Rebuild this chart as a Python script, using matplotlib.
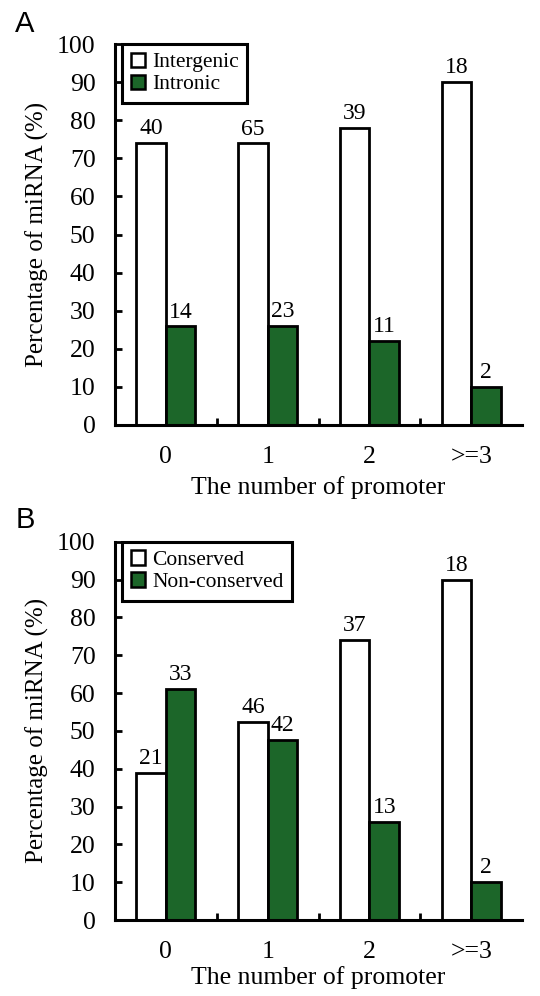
import numpy as np
import matplotlib
matplotlib.use("Agg")
import matplotlib.pyplot as plt

# ---- data (percent of miRNA, with counts shown above bars) ----
categories = ["0", "1", "2", ">=3"]

a_labels = ["Intergenic", "Intronic"]
a_first = [74.1, 73.9, 78.0, 90.0]
a_second = [25.9, 26.1, 22.0, 10.0]
a_first_n = [40, 65, 39, 18]
a_second_n = [14, 23, 11, 2]

b_labels = ["Conserved", "Non-conserved"]
b_first = [38.9, 52.3, 74.0, 90.0]
b_second = [61.1, 47.7, 26.0, 10.0]
b_first_n = [21, 46, 37, 18]
b_second_n = [33, 42, 13, 2]

GREEN = "#1c6629"
SERIF = "Liberation Serif"

plt.rcParams["font.family"] = SERIF


def draw_panel(ax, first, second, first_n, second_n, labels, xpad):
    x = np.arange(len(categories))
    w = 0.29
    b1 = ax.bar(x - w / 2, first, w, color="white", edgecolor="black",
                linewidth=2.0, label=labels[0], zorder=2)
    b2 = ax.bar(x + w / 2, second, w, color=GREEN, edgecolor="black",
                linewidth=2.0, label=labels[1], zorder=2)
    for bars, counts in ((b1, first_n), (b2, second_n)):
        for rect, n in zip(bars, counts):
            ax.text(rect.get_x() + rect.get_width() / 2, rect.get_height() + 1.0,
                    str(n), ha="center", va="bottom", fontsize=17)

    ax.set_xlim(-0.5, 3.5)
    ax.set_ylim(0, 100)
    ax.set_yticks(np.arange(0, 101, 10))
    ax.set_xticks(x)
    ax.set_xticklabels(categories)
    ax.set_xticks([0.5, 1.5, 2.5], minor=True)
    ax.tick_params(axis="x", which="major", length=0, pad=15, labelsize=18.5)
    ax.tick_params(axis="x", which="minor", direction="in", length=5, width=2)
    ax.tick_params(axis="y", direction="in", length=5, width=2, pad=14,
                   labelsize=18.5)
    for s in ("top", "right"):
        ax.spines[s].set_visible(False)
    for s in ("left", "bottom"):
        ax.spines[s].set_linewidth(2.2)
    ax.set_ylabel("Percentage of miRNA (%)", fontsize=18, labelpad=6)
    ax.set_xlabel("The number of promoter", fontsize=18.5, labelpad=xpad)

    leg = ax.legend(loc="upper left", bbox_to_anchor=(0.017, 1.0),
                    borderaxespad=0, fontsize=15.5, frameon=True, fancybox=False,
                    framealpha=1.0, handlelength=0.65, handleheight=0.65,
                    handletextpad=0.35, borderpad=0.4, labelspacing=0.1,
                    edgecolor="black")
    leg.get_frame().set_linewidth(2.2)
    for h in leg.legend_handles:
        h.set_linewidth(1.8)
    return ax


fig = plt.figure(figsize=(5.4, 9.96), dpi=100)
ax_a = fig.add_axes([0.213, 0.5733, 0.754, 0.3825])
ax_b = fig.add_axes([0.213, 0.0763, 0.754, 0.3798])

draw_panel(ax_a, a_first, a_second, a_first_n, a_second_n, a_labels, 6)
draw_panel(ax_b, b_first, b_second, b_first_n, b_second_n, b_labels, 2)

fig.text(0.046, 0.976, "A", fontsize=21, family="Liberation Sans",
         ha="center", va="center")
fig.text(0.046, 0.478, "B", fontsize=21, family="Liberation Sans",
         ha="center", va="center")

fig.savefig("out.png", dpi=100)
